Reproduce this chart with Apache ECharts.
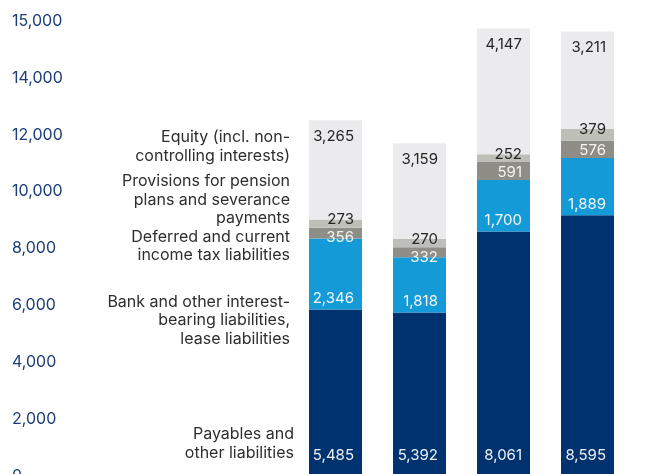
<!DOCTYPE html>
<html>
<head>
<meta charset="utf-8">
<script src="https://cdn.jsdelivr.net/npm/echarts@6/dist/echarts.min.js"></script>
<style>
  html, body { margin: 0; padding: 0; background: #ffffff; }
  #chart { width: 667px; height: 474px; }
</style>
</head>
<body>
<div id="chart"></div>
<script>
// Balance sheet structure, EUR m (liabilities and equity, stacked)
const categories = ['2020', '2021', '2022', '2023'];
const payables = [5485, 5392, 8061, 8595];
const bankLiabilities = [2346, 1818, 1700, 1889];
const taxLiabilities = [356, 332, 591, 576];
const provisions = [273, 270, 252, 379];
const equity = [3265, 3159, 4147, 3211];

const tickLabels = ['0', '2,000', '4,000', '6,000', '8,000', '10,000', '12,000', '14,000', '15,000'];

const seriesNames = [
  'Payables and\nother liabilities',
  'Bank and other interest-\nbearing liabilities,\nlease liabilities',
  'Deferred and current\nincome tax liabilities',
  'Provisions for pension\nplans and severance\npayments',
  'Equity (incl. non-\ncontrolling interests)'
];

const FONT = 'Inter, "Noto Sans", sans-serif';
const BAR_WIDTH = 53;
const AXIS_MAX = 15000;

const colors = ['#00326f', '#149ad7', '#8e8d86', '#bfbfba', '#ebebed'];
const labelColors = ['#eef1f6', '#f2f7fb', '#f4f4f2', '#262626', '#262626'];
// label anchor on each segment: [position, offset]
const labelPlacement = [
  [['100%', '100%'], [-8, -21]],
  [['100%', '100%'], [-8, -11]],
  [['100%', '0%'], [-8, 10]],
  [['100%', '0%'], [-8, 0]],
  [['100%', '0%'], [-8, 16]]
];

const values = [payables, bankLiabilities, taxLiabilities, provisions, equity];

const fmt = v => Number(v).toLocaleString('en-US');

const series = values.map((data, i) => ({
  name: seriesNames[i],
  type: 'bar',
  stack: 'total',
  barWidth: BAR_WIDTH,
  data: data,
  itemStyle: { color: colors[i] },
  emphasis: { disabled: true },
  label: {
    show: true,
    position: labelPlacement[i][0],
    offset: labelPlacement[i][1],
    align: 'right',
    verticalAlign: 'middle',
    color: labelColors[i],
    fontFamily: FONT,
    fontSize: 15,
    formatter: p => fmt(p.value)
  }
}));

const chart = echarts.init(document.getElementById('chart'), null, { renderer: 'canvas' });

const gridLeft = 293.5;
chart.setOption({
  animation: false,
  backgroundColor: '#ffffff',
  grid: {
    left: gridLeft, width: 336, top: 21, height: 455,
    containLabel: false,
    outerBoundsMode: 'none'
  },
  xAxis: {
    type: 'category',
    data: categories,
    show: false
  },
  yAxis: {
    type: 'value',
    min: 0,
    max: AXIS_MAX,
    interval: AXIS_MAX / (tickLabels.length - 1),
    axisLine: { show: false },
    axisTick: { show: false },
    splitLine: { show: false },
    axisLabel: {
      align: 'left',
      margin: gridLeft - 12,
      color: '#1c3d78',
      fontFamily: FONT,
      fontSize: 16,
      formatter: (v, idx) => tickLabels[idx]
    }
  },
  series: series
});

// Series captions beside the first column, anchored to its segments
const stackBase = [];
let acc = 0;
values.forEach(arr => { stackBase.push(acc); acc += arr[0]; });

const px = v => chart.convertToPixel({ gridIndex: 0 }, [0, v]);
const captions = values.map((arr, i) => {
  const bottom = px(stackBase[i]);
  const top = px(stackBase[i] + arr[0]);
  const barLeft = bottom[0] - BAR_WIDTH / 2;
  let y, vAlign, gap = 19;
  if (i === 0) { y = bottom[1] - 14; vAlign = 'bottom'; gap = 15; }
  else if (i === 1) { y = bottom[1] - 17; vAlign = 'top'; }
  else if (i === 2) { y = top[1]; vAlign = 'top'; }
  else if (i === 3) { y = bottom[1]; vAlign = 'bottom'; }
  else { y = top[1] + 8; vAlign = 'top'; }
  return {
    type: 'text',
    x: barLeft - gap,
    y: y,
    style: {
      text: seriesNames[i],
      fill: '#2e2e2e',
      font: '16px ' + FONT,
      align: 'right',
      verticalAlign: vAlign,
      lineHeight: 18.6
    }
  };
});

chart.setOption({ graphic: captions });
</script>
</body>
</html>
